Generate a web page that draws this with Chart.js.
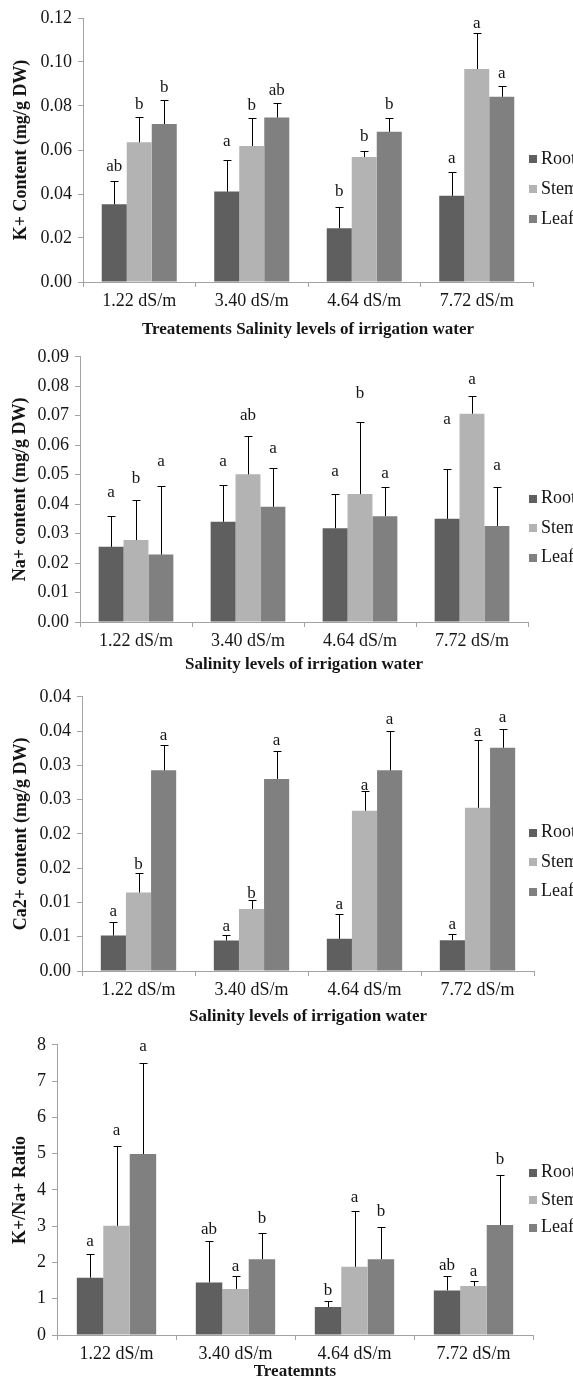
<!DOCTYPE html>
<html>
<head>
<meta charset="utf-8">
<script src="https://cdn.jsdelivr.net/npm/chart.js@4/dist/chart.umd.min.js"></script>
<style>
html, body { margin: 0; padding: 0; background: #ffffff; width: 573px; height: 1378px; overflow: hidden; }
canvas { position: absolute; left: 0; }
</style>
</head>
<body>
<canvas id="c1" width="573" height="340" style="top:0px"></canvas>
<canvas id="c2" width="573" height="340" style="top:340px"></canvas>
<canvas id="c3" width="573" height="348" style="top:680px"></canvas>
<canvas id="c4" width="573" height="357" style="top:1028px"></canvas>
<script>
// ---------- shared ----------
const categories = ['1.22 dS/m', '3.40 dS/m', '4.64 dS/m', '7.72 dS/m'];
const seriesNames = ['Root', 'Stem', 'Leaf'];

// ---------- Panel 1: K+ content ----------
const kRoot = [0.0353, 0.0411, 0.0244, 0.0392];
const kStem = [0.0635, 0.0618, 0.0568, 0.0968];
const kLeaf = [0.0718, 0.0748, 0.0683, 0.0842];
const kRootErr = [0.0107, 0.0144, 0.0097, 0.0108];
const kStemErr = [0.0115, 0.0127, 0.0029, 0.0164];
const kLeafErr = [0.0111, 0.0066, 0.0062, 0.0050];
const kRootLetters = ['ab', 'a', 'b', 'a'];
const kStemLetters = ['b', 'b', 'b', 'a'];
const kLeafLetters = ['b', 'ab', 'b', 'a'];
const kRootLetterAt = [0.0526, 0.0639, 0.0412, 0.0559];
const kStemLetterAt = [0.0806, 0.0802, 0.0659, 0.1177];
const kLeafLetterAt = [0.0886, 0.0871, 0.0806, 0.0947];

// ---------- Panel 2: Na+ content ----------
const naRoot = [0.0255, 0.0340, 0.0318, 0.0350];
const naStem = [0.0278, 0.0501, 0.0434, 0.0707];
const naLeaf = [0.0229, 0.0391, 0.0359, 0.0326];
const naRootErr = [0.0104, 0.0124, 0.0117, 0.0170];
const naStemErr = [0.0137, 0.0131, 0.0246, 0.0060];
const naLeafErr = [0.0234, 0.0132, 0.0099, 0.0133];
const naRootLetters = ['a', 'a', 'a', 'a'];
const naStemLetters = ['b', 'ab', 'b', 'a'];
const naLeafLetters = ['a', 'a', 'a', 'a'];
const naRootLetterAt = [0.0440, 0.0543, 0.0510, 0.0686];
const naStemLetterAt = [0.0487, 0.0701, 0.0775, 0.0822];
const naLeafLetterAt = [0.0545, 0.0588, 0.0504, 0.0530];

// ---------- Panel 3: Ca2+ content ----------
const caRoot = [0.00517, 0.00446, 0.00470, 0.00450];
const caStem = [0.01145, 0.00905, 0.02338, 0.02381];
const caLeaf = [0.02927, 0.02802, 0.02927, 0.03257];
const caRootErr = [0.00197, 0.00081, 0.00359, 0.00091];
const caStemErr = [0.00287, 0.00125, 0.00287, 0.00991];
const caLeafErr = [0.00373, 0.00403, 0.00580, 0.00278];
const caRootLetters = ['a', 'a', 'a', 'a'];
const caStemLetters = ['b', 'b', 'a', 'a'];
const caLeafLetters = ['a', 'a', 'a', 'a'];
const caRootLetterAt = [0.00867, 0.00651, 0.00972, 0.00675];
const caStemLetterAt = [0.01557, 0.01135, 0.02707, 0.03487];
const caLeafLetterAt = [0.0344, 0.03368, 0.0367, 0.0370];
const caTickLabels = ['0.00', '0.01', '0.01', '0.02', '0.02', '0.03', '0.03', '0.04', '0.04'];

// ---------- Panel 4: K+/Na+ ratio ----------
const rRoot = [1.58, 1.45, 0.77, 1.23];
const rStem = [3.01, 1.27, 1.88, 1.35];
const rLeaf = [4.99, 2.09, 2.09, 3.03];
const rRootErr = [0.66, 1.13, 0.16, 0.40];
const rStemErr = [2.20, 0.37, 1.53, 0.13];
const rLeafErr = [2.52, 0.72, 0.90, 1.38];
const rRootLetters = ['a', 'ab', 'b', 'ab'];
const rStemLetters = ['a', 'a', 'a', 'a'];
const rLeafLetters = ['a', 'b', 'b', 'b'];
const rRootLetterAt = [2.57, 2.90, 1.22, 1.92];
const rStemLetterAt = [5.63, 1.88, 3.80, 1.76];
const rLeafLetterAt = [7.95, 3.22, 3.41, 4.85];

// ---------- styles ----------
const seriesColors = ['#5f5f5f', '#b3b3b3', '#808080'];
const axisColor = '#a3a3a3';
const textColor = '#151515';
const serif = '"Liberation Serif", "Times New Roman", serif';

// error bars, significance letters and side legend
const overlay = {
  id: 'overlay',
  afterDatasetsDraw(chart) {
    const ctx = chart.ctx;
    const ys = chart.scales.y;
    chart.data.datasets.forEach((ds, di) => {
      const meta = chart.getDatasetMeta(di);
      meta.data.forEach((bar, i) => {
        const x = Math.round(bar.x) + 0.5;
        const top = ys.getPixelForValue(ds.data[i]);
        const eTop = Math.round(ys.getPixelForValue(ds.data[i] + ds.errors[i])) + 0.5;
        ctx.save();
        ctx.strokeStyle = '#000000';
        ctx.lineWidth = 1;
        ctx.beginPath();
        ctx.moveTo(x, top);
        ctx.lineTo(x, eTop);
        ctx.moveTo(x - 4, eTop);
        ctx.lineTo(x + 4, eTop);
        ctx.stroke();
        ctx.fillStyle = textColor;
        ctx.font = '17px ' + serif;
        ctx.textAlign = 'center';
        ctx.textBaseline = 'middle';
        ctx.fillText(ds.letters[i], bar.x, ys.getPixelForValue(ds.letterAt[i]));
        ctx.restore();
      });
    });
  },
  afterDraw(chart) {
    const o = chart.options.plugins.overlay;
    const ctx = chart.ctx;
    ctx.save();
    ctx.font = '18px ' + serif;
    ctx.textBaseline = 'middle';
    ctx.textAlign = 'left';
    chart.data.datasets.forEach((ds, k) => {
      const cy = o.legendY + (k - 1) * o.legendGap;
      ctx.fillStyle = ds.backgroundColor;
      ctx.fillRect(o.legendX, Math.round(cy - 4), 8, 8);
      ctx.fillStyle = textColor;
      ctx.fillText(ds.label, o.legendX + 12, cy);
    });
    ctx.restore();
  }
};

function makePanel(id, p) {
  const datasets = p.values.map((vals, k) => ({
    label: seriesNames[k],
    data: vals,
    backgroundColor: seriesColors[k],
    borderWidth: 0,
    errors: p.errors[k],
    letters: p.letters[k],
    letterAt: p.letterAt[k],
    categoryPercentage: 0.667,
    barPercentage: 1.0
  }));
  new Chart(document.getElementById(id), {
    type: 'bar',
    data: { labels: categories, datasets: datasets },
    options: {
      responsive: false,
      animation: false,
      devicePixelRatio: 1,
      layout: { padding: { top: p.padTop, right: 573 - p.right, left: 0, bottom: 0 } },
      plugins: {
        legend: { display: false },
        tooltip: { enabled: false },
        overlay: { legendX: 529, legendY: p.legendY, legendGap: p.legendGap }
      },
      scales: {
        x: {
          grid: { display: true, drawOnChartArea: false, drawTicks: true, tickLength: 5, color: axisColor, offset: true },
          border: { display: true, color: axisColor, width: 1 },
          ticks: { color: textColor, font: { family: serif, size: 18 }, padding: 3, maxRotation: 0, autoSkip: false },
          title: { display: true, text: p.xTitle, color: textColor,
                   font: { family: serif, size: 17, weight: 'bold', lineHeight: 1 },
                   padding: { top: 0, bottom: p.xTitlePad } },
          afterFit: (s) => { s.height = p.height - p.bottom; }
        },
        y: {
          min: 0,
          max: p.max,
          grid: { display: true, drawOnChartArea: false, drawTicks: true, tickLength: 5, color: axisColor },
          border: { display: true, color: axisColor, width: 1 },
          ticks: { stepSize: p.step, color: textColor, font: { family: serif, size: 18 }, padding: 6,
                   callback: p.tickCb },
          title: { display: true, text: p.yTitle, color: textColor,
                   font: { family: serif, size: 18, weight: 'bold', lineHeight: 1 },
                   padding: { top: p.yTitlePad, bottom: 0 } },
          afterFit: (s) => { s.width = p.left; }
        }
      }
    },
    plugins: [overlay]
  });
}

makePanel('c1', {
  values: [kRoot, kStem, kLeaf], errors: [kRootErr, kStemErr, kLeafErr],
  letters: [kRootLetters, kStemLetters, kLeafLetters], letterAt: [kRootLetterAt, kStemLetterAt, kLeafLetterAt],
  max: 0.12, step: 0.02, tickCb: (v) => v.toFixed(2),
  yTitle: 'K+ Content (mg/g DW)', xTitle: 'Treatements Salinity levels of irrigation water',
  height: 340, padTop: 18, bottom: 282, left: 83, right: 533, xTitlePad: 2, yTitlePad: 12,
  legendY: 189, legendGap: 30
});

makePanel('c2', {
  values: [naRoot, naStem, naLeaf], errors: [naRootErr, naStemErr, naLeafErr],
  letters: [naRootLetters, naStemLetters, naLeafLetters], letterAt: [naRootLetterAt, naStemLetterAt, naLeafLetterAt],
  max: 0.09, step: 0.01, tickCb: (v) => v.toFixed(2),
  yTitle: 'Na+ content (mg/g DW)', xTitle: 'Salinity levels of irrigation water',
  height: 340, padTop: 13, bottom: 282, left: 80, right: 528, xTitlePad: 7, yTitlePad: 11,
  legendY: 188, legendGap: 29.5
});

makePanel('c3', {
  values: [caRoot, caStem, caLeaf], errors: [caRootErr, caStemErr, caLeafErr],
  letters: [caRootLetters, caStemLetters, caLeafLetters], letterAt: [caRootLetterAt, caStemLetterAt, caLeafLetterAt],
  max: 0.04, step: 0.005, tickCb: (v, i) => caTickLabels[i],
  yTitle: 'Ca2+ content (mg/g DW)', xTitle: 'Salinity levels of irrigation water',
  height: 348, padTop: 13, bottom: 291, left: 82, right: 534, xTitlePad: 3, yTitlePad: 12,
  legendY: 182, legendGap: 29.5
});

makePanel('c4', {
  values: [rRoot, rStem, rLeaf], errors: [rRootErr, rStemErr, rLeafErr],
  letters: [rRootLetters, rStemLetters, rLeafLetters], letterAt: [rRootLetterAt, rStemLetterAt, rLeafLetterAt],
  max: 8, step: 1, tickCb: (v) => String(v),
  yTitle: 'K+/Na+ Ratio', xTitle: 'Treatemnts',
  height: 357, padTop: 10, bottom: 307, left: 57, right: 533, xTitlePad: 5, yTitlePad: 11,
  legendY: 172, legendGap: 27.5
});
</script>
</body>
</html>
